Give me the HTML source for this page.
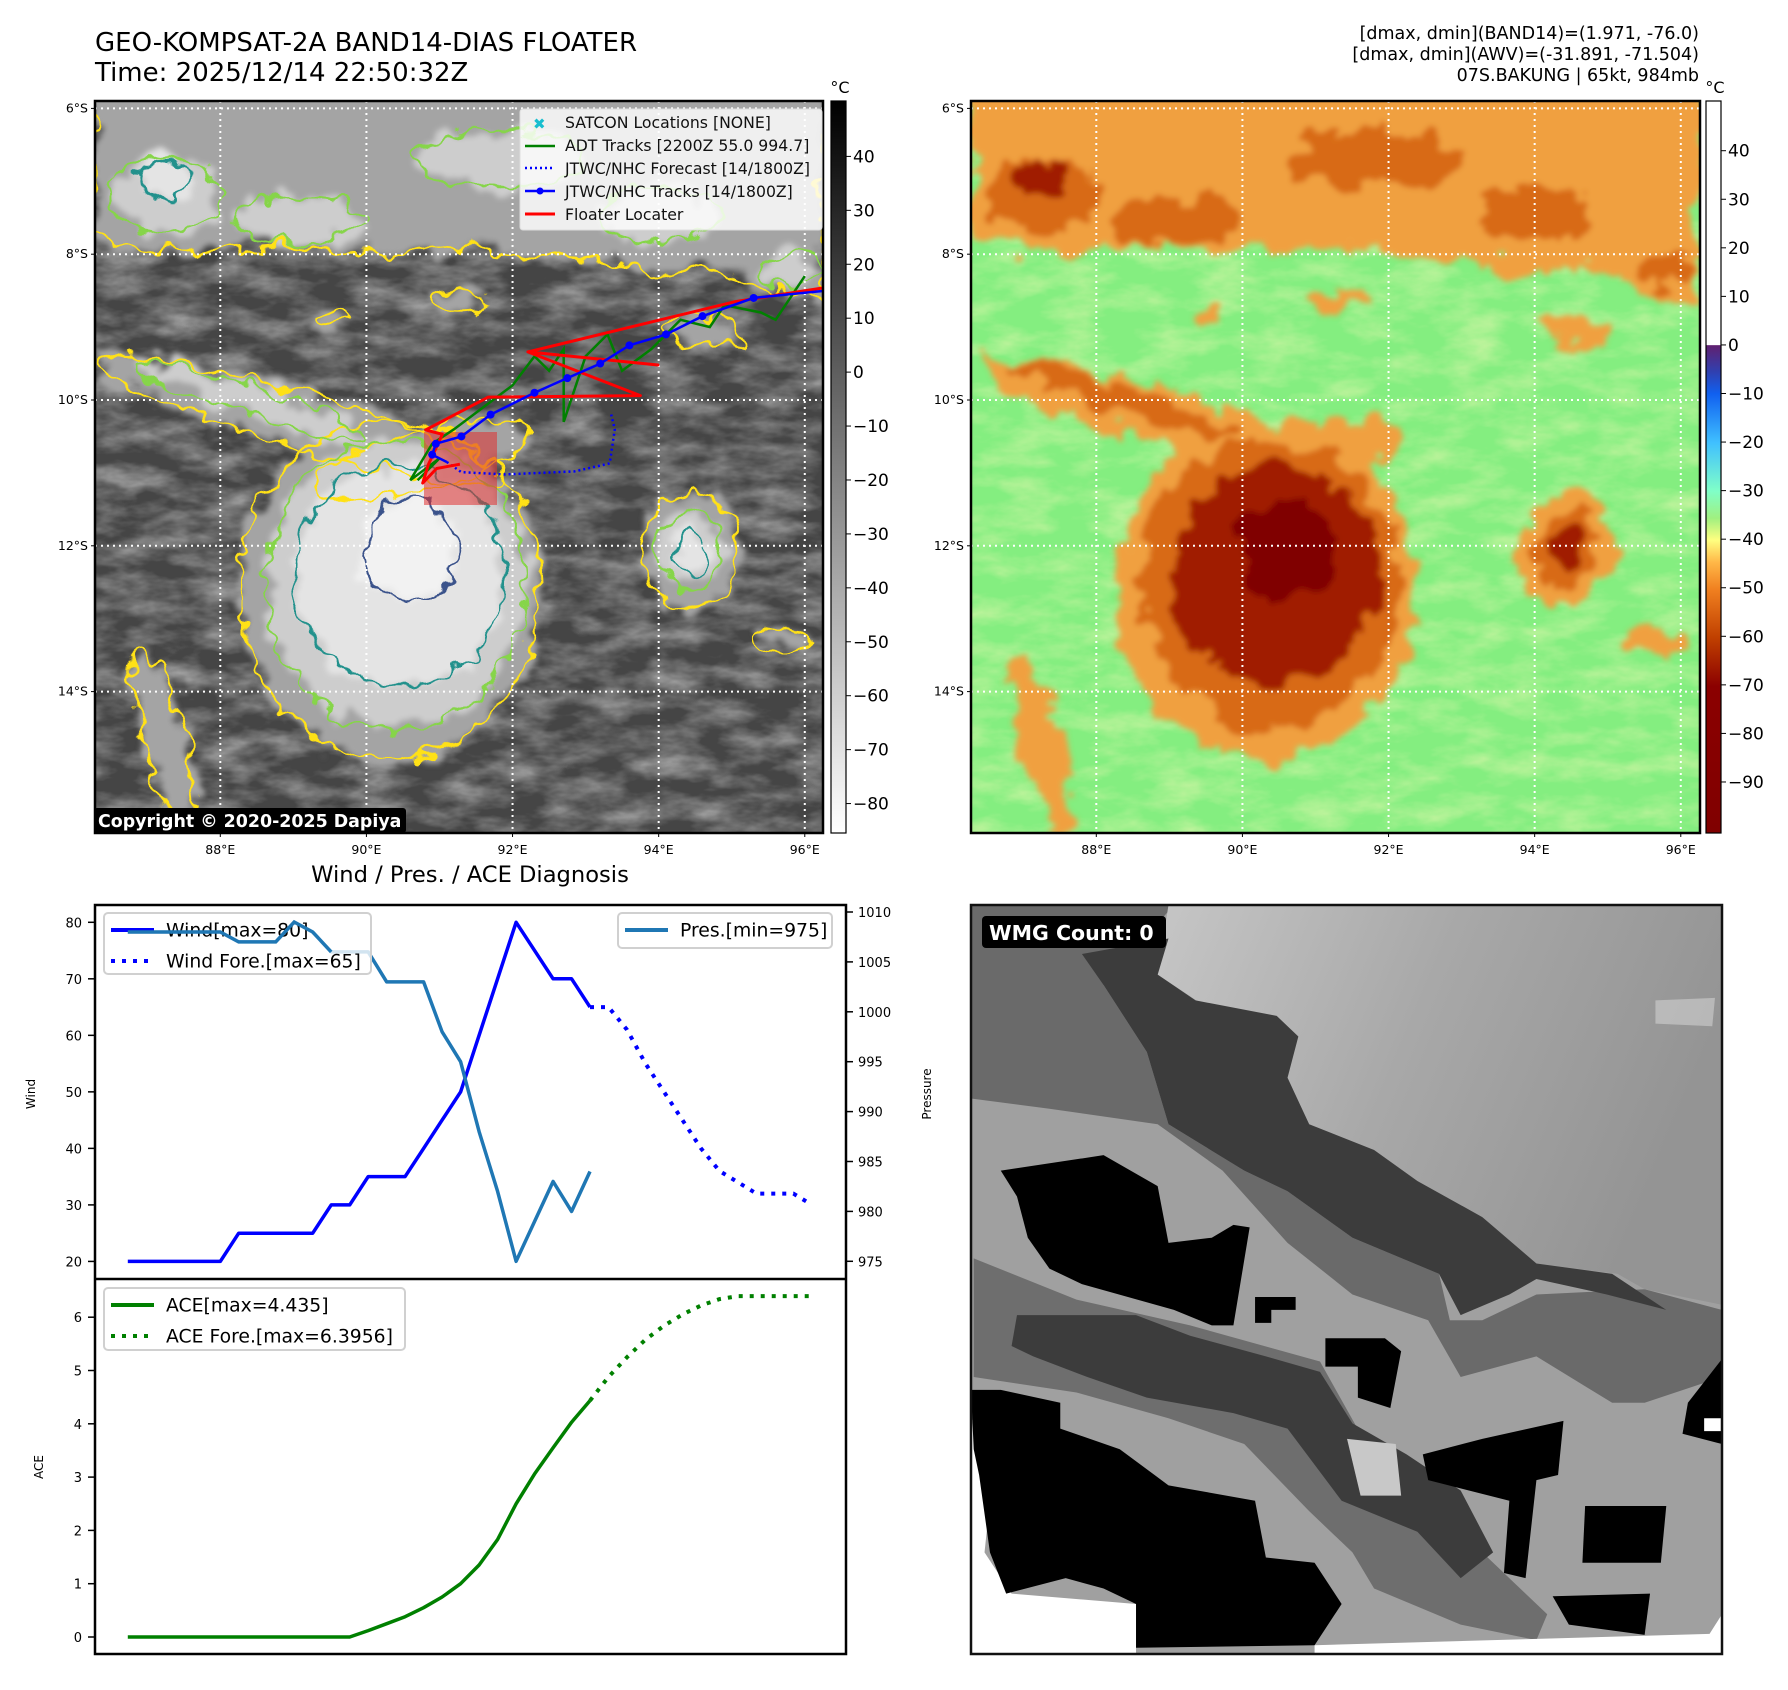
<!DOCTYPE html>
<html><head><meta charset="utf-8">
<style>
html,body{margin:0;padding:0;background:#fff;}
svg{display:block;font-family:"DejaVu Sans","Liberation Sans",sans-serif;}
</style></head>
<body>
<svg id="root" xmlns="http://www.w3.org/2000/svg" width="1788" height="1690" viewBox="0 0 1788 1690">
<defs>
  <filter id="wig" x="-20%" y="-20%" width="140%" height="140%">
    <feTurbulence type="fractalNoise" baseFrequency="0.045" numOctaves="2" seed="3" result="n"/>
    <feDisplacementMap in="SourceGraphic" in2="n" scale="28" xChannelSelector="R" yChannelSelector="G"/>
  </filter>
  <filter id="wigfill" x="-20%" y="-20%" width="140%" height="140%">
    <feTurbulence type="fractalNoise" baseFrequency="0.035" numOctaves="3" seed="7" result="n"/>
    <feDisplacementMap in="SourceGraphic" in2="n" scale="40" xChannelSelector="R" yChannelSelector="G" result="d"/>
    <feGaussianBlur in="d" stdDeviation="3"/>
  </filter>
  <filter id="noiseW" x="0" y="0" width="100%" height="100%">
    <feTurbulence type="fractalNoise" baseFrequency="0.02 0.045" numOctaves="4" seed="11"/>
    <feColorMatrix type="matrix" values="0 0 0 0 1  0 0 0 0 1  0 0 0 0 1  1.6 0 0 0 -0.55"/>
  </filter>
  <filter id="noiseY" x="0" y="0" width="100%" height="100%">
    <feTurbulence type="fractalNoise" baseFrequency="0.02 0.045" numOctaves="4" seed="11"/>
    <feColorMatrix type="matrix" values="0 0 0 0 1  0 0 0 0 0.95  0 0 0 0 0.5  1.6 0 0 0 -0.6"/>
  </filter>
  <clipPath id="clipL"><rect x="95" y="101" width="728" height="732"/></clipPath>
  <clipPath id="clipR"><rect x="971" y="101" width="729" height="732"/></clipPath>
  <linearGradient id="cbGray" x1="0" y1="0" x2="0" y2="1">
    <stop offset="0" stop-color="#000"/><stop offset="1" stop-color="#fff"/>
  </linearGradient>
  <linearGradient id="cbColor" x1="0" y1="1" x2="0" y2="0">
    <stop offset="0" stop-color="#800000"/>
    <stop offset="0.2" stop-color="#8b0000"/>
    <stop offset="0.267" stop-color="#c04000"/>
    <stop offset="0.333" stop-color="#f08020"/>
    <stop offset="0.37" stop-color="#ffb848"/>
    <stop offset="0.40" stop-color="#ffff80"/>
    <stop offset="0.43" stop-color="#a0f080"/>
    <stop offset="0.467" stop-color="#80ffc8"/>
    <stop offset="0.533" stop-color="#40c0ff"/>
    <stop offset="0.60" stop-color="#1060f0"/>
    <stop offset="0.63" stop-color="#3040b0"/>
    <stop offset="0.666" stop-color="#602070"/>
    <stop offset="0.667" stop-color="#ffffff"/>
    <stop offset="1" stop-color="#ffffff"/>
  </linearGradient>
  <linearGradient id="wmgLight" x1="0" y1="0" x2="1" y2="0.3">
    <stop offset="0" stop-color="#c6c6c6"/><stop offset="0.5" stop-color="#a8a8a8"/><stop offset="1" stop-color="#949494"/>
  </linearGradient>
</defs>

<text x="95" y="51" font-size="26">GEO-KOMPSAT-2A BAND14-DIAS FLOATER</text>
<text x="95" y="81" font-size="26">Time: 2025/12/14 22:50:32Z</text>
<g font-size="17.5" text-anchor="end">
  <text x="1699" y="39">[dmax, dmin](BAND14)=(1.971, -76.0)</text>
  <text x="1699" y="60">[dmax, dmin](AWV)=(-31.891, -71.504)</text>
  <text x="1699" y="81">07S.BAKUNG | 65kt, 984mb</text>
</g>

<g id="mapL" clip-path="url(#clipL)"></g>
<rect x="95" y="101" width="728" height="732" fill="none" stroke="#000" stroke-width="2.5"/>
<g id="mapLAxes"></g>

<g id="mapR" clip-path="url(#clipR)"></g>
<rect x="971" y="101" width="729" height="732" fill="none" stroke="#000" stroke-width="2.5"/>
<g id="mapRAxes"></g>

<g id="cbL">
  <rect x="831" y="101" width="15" height="732" fill="url(#cbGray)" stroke="#000" stroke-width="1.2"/>
  <text x="840" y="93" font-size="16" text-anchor="middle">°C</text>
</g>
<g id="cbR">
  <rect x="1706" y="101" width="15" height="732" fill="url(#cbColor)" stroke="#000" stroke-width="1.2"/>
  <text x="1715" y="93" font-size="16" text-anchor="middle">°C</text>
</g>

<g>
  <rect x="520" y="109" width="302" height="121" rx="3" fill="#fff" fill-opacity="0.82" stroke="#ddd"/>
  <text x="533" y="129" font-size="15" fill="#17becf" font-weight="bold">✖</text>
  <line x1="525" y1="146" x2="555" y2="146" stroke="green" stroke-width="2.5"/>
  <line x1="525" y1="168" x2="555" y2="168" stroke="blue" stroke-width="2.5" stroke-dasharray="2,3"/>
  <line x1="525" y1="191" x2="555" y2="191" stroke="blue" stroke-width="2.5"/><circle cx="540" cy="191" r="3.5" fill="blue"/>
  <line x1="525" y1="214" x2="555" y2="214" stroke="red" stroke-width="3"/>
  <g font-size="15.7" fill="#111">
    <text x="565" y="128">SATCON Locations [NONE]</text>
    <text x="565" y="151">ADT Tracks [2200Z 55.0 994.7]</text>
    <text x="565" y="174">JTWC/NHC Forecast [14/1800Z]</text>
    <text x="565" y="197">JTWC/NHC Tracks [14/1800Z]</text>
    <text x="565" y="220">Floater Locater</text>
  </g>
</g>
<g>
  <rect x="94" y="808" width="312" height="25" rx="3" fill="#000"/>
  <text x="98" y="827" font-size="17.4" font-weight="bold" fill="#fff">Copyright © 2020-2025 Dapiya</text>
</g>

<text x="470" y="882" font-size="22.6" text-anchor="middle">Wind / Pres. / ACE Diagnosis</text>
<g id="chart"></g>

<g>
  <svg x="971" y="905" width="751" height="749" viewBox="55 45 1388 1452" preserveAspectRatio="none">
    <rect x="55" y="45" width="1388" height="1452" fill="#a0a0a0"/>
    <polygon fill="#6a6a6a" points="55,45 430,45 300,200 380,330 420,470 560,560 640,600 760,690 920,760 940,850 1000,850 1100,800 1300,790 1443,830 1443,960 1300,1010 1240,1010 1100,920 960,960 900,850 760,800 640,700 520,560 400,470 200,440 55,420"/>
    <polygon fill="url(#wmgLight)" points="420,45 1443,45 1443,820 1300,790 1250,760 1100,740 1000,680 880,580 800,520 680,470 640,380 620,300 500,250 400,180"/>
    <polygon fill="#d0d0d0" opacity="0.6" points="1320,230 1430,225 1425,280 1320,275"/>
    <polygon fill="#3c3c3c" points="260,140 420,110 400,180 470,230 620,260 660,300 640,380 680,470 800,520 880,580 1000,650 1100,740 1240,760 1340,830 1230,800 1100,770 1050,800 960,840 920,760 760,690 640,600 560,560 420,470 380,330 300,200"/>
    <polygon fill="#6e6e6e" points="60,730 250,810 460,860 700,930 780,1080 900,1200 1060,1360 1120,1420 1100,1470 960,1440 800,1370 760,1300 680,1220 560,1090 420,1040 250,990 60,960"/>
    <polygon fill="#3c3c3c" points="140,840 360,840 460,880 600,920 700,950 760,1050 860,1110 960,1180 1020,1300 960,1350 880,1260 740,1200 640,1060 540,1030 380,1000 270,960 170,920 130,900"/>
    <polygon fill="#c8c8c8" points="750,1080 840,1090 850,1190 775,1190"/>
    <polygon fill="#000" points="110,560 300,530 400,590 420,700 500,690 540,665 570,670 540,860 500,860 430,830 260,780 200,750 160,690 140,610"/>
    <polygon fill="#000" points="580,805 655,805 655,830 610,830 610,855 580,855"/>
    <polygon fill="#000" points="710,885 820,885 850,910 830,1020 770,1000 770,940 710,940"/>
    <polygon fill="#fff" points="55,1040 100,1100 80,1300 130,1380 360,1400 360,1497 55,1497"/>
    <polygon fill="#000" points="55,985 110,985 220,1010 220,1060 330,1100 420,1170 580,1200 600,1310 690,1320 740,1400 690,1480 360,1485 360,1400 300,1370 230,1350 120,1380 90,1300 70,1150 60,1100"/>
    <polygon fill="#000" points="1000,1080 1150,1045 1140,1150 1100,1160 1080,1350 1040,1340 1050,1200 900,1160 890,1110"/>
    <polygon fill="#000" points="1190,1210 1340,1210 1330,1320 1185,1320"/>
    <polygon fill="#000" points="1130,1385 1310,1380 1300,1460 1160,1440"/>
    <polygon fill="#000" points="1380,1010 1443,925 1443,1090 1370,1070"/>
    <polygon fill="#fff" points="1410,1040 1443,1040 1443,1065 1410,1065"/>
    <polygon fill="#fff" points="690,1480 1420,1458 1443,1420 1443,1497 690,1497"/>
  </svg>
  <rect x="971" y="905" width="751" height="749" fill="none" stroke="#111" stroke-width="2.5"/>
  <rect x="982" y="916" width="184" height="32" rx="4" fill="#000"/>
  <text x="989" y="940" font-size="20.5" font-weight="bold" fill="#fff">WMG Count: 0</text>
</g>

<script>
// ===== Chart data (bottom-left) =====
const windVals = [20,20,20,20,20,20,25,25,25,25,25,30,30,35,35,35,40,45,50,60,70,80,75,70,70,65];
const windForeVals = [65,65,61,55,50,45,40,36,34,32,32,32,30];
const presVals = [1008,1008,1008,1008,1008,1008,1007,1007,1007,1009,1008,1006,1006,1006,1003,1003,1003,998,995,988,982,975,979,983,980,984];
const aceVals = [0,0,0,0,0,0,0,0,0,0,0,0,0,0.12,0.25,0.38,0.55,0.75,1.0,1.35,1.83,2.5,3.06,3.55,4.03,4.435];
const aceForeVals = [4.435,4.88,5.25,5.58,5.84,6.05,6.22,6.34,6.3956,6.3956,6.3956,6.3956,6.3956];
const windTicks = [20,30,40,50,60,70,80];
const presTicks = [975,980,985,990,995,1000,1005,1010];
const aceTicks = [0,1,2,3,4,5,6];
// ===== Map track data (lon E, lat S) =====
const jtwcLon = [96.3,95.3,94.6,94.1,93.6,93.2,92.75,92.3,91.7,91.3,90.95,90.9,91.1];
const jtwcLat = [8.5,8.6,8.85,9.1,9.25,9.5,9.7,9.9,10.2,10.5,10.6,10.75,10.85];
const fcstLon = [91.1,91.3,91.9,92.85,93.33,93.4,93.35];
const fcstLat = [10.85,10.99,11.02,10.98,10.87,10.4,10.2];
const floaterLon = [96.27,95.05,92.21,93.99,92.21,93.75,91.67,90.81,91.04,90.85,90.77,90.96,91.28];
const floaterLat = [8.46,8.65,9.34,9.52,9.34,9.94,9.96,10.41,10.47,10.88,11.14,10.94,10.88];
const adtLon = [96.0,95.6,95.4,94.9,94.7,94.3,93.9,93.5,93.3,93.0,92.7,92.7,92.5,92.3,92.0,91.6,91.2,90.9,90.6,91.0,90.7];
const adtLat = [8.3,8.9,8.8,8.7,9.0,8.9,9.3,9.6,9.1,9.4,10.3,9.3,9.6,9.4,9.8,10.1,10.4,10.6,11.1,10.8,11.1];
const lonTicks = [88,90,92,94,96];
const latTicks = [6,8,10,12,14];
const grayCbTicks = [40,30,20,10,0,-10,-20,-30,-40,-50,-60,-70,-80];
const colorCbTicks = [40,30,20,10,0,-10,-20,-30,-40,-50,-60,-70,-80,-90];

const NS = 'http://www.w3.org/2000/svg';
function mk(tag, attrs, parent){const e=document.createElementNS(NS,tag);for(const k in attrs)e.setAttribute(k,attrs[k]);if(parent)parent.appendChild(e);return e;}

const CX0=95, CX1=846, CT=905, CM=1279, CB=1654;
const xIdx = i => 127.8 + i*18.49;
const yWind = v => 922.3 + (80-v)*5.652;
const yPres = v => 912 + (1010-v)*9.98;
const yAce = v => 1637 - v*53.3;
const chart = document.getElementById('chart');
function pts(vals, fx, fy, off){return vals.map((v,i)=>fx(i+off).toFixed(1)+','+fy(v).toFixed(1)).join(' ');}

mk('rect',{x:CX0,y:CT,width:CX1-CX0,height:CB-CT,fill:'#fff'},chart);
let p;
p=mk('polyline',{points:pts(windVals,xIdx,yWind,0),fill:'none',stroke:'blue','stroke-width':3.5,'stroke-linejoin':'round'},chart);


p=mk('polyline',{points:pts(windForeVals,xIdx,yWind,25),fill:'none',stroke:'blue','stroke-width':4,'stroke-dasharray':'4,7'},chart);


p=mk('polyline',{points:pts(presVals,xIdx,yPres,0),fill:'none',stroke:'#1f77b4','stroke-width':3.5,'stroke-linejoin':'round'},chart);


p=mk('polyline',{points:pts(aceVals,xIdx,yAce,0),fill:'none',stroke:'green','stroke-width':3.5,'stroke-linejoin':'round'},chart);


p=mk('polyline',{points:pts(aceForeVals,xIdx,yAce,25),fill:'none',stroke:'green','stroke-width':4,'stroke-dasharray':'4,7'},chart);


mk('rect',{x:CX0,y:CT,width:CX1-CX0,height:CB-CT,fill:'none',stroke:'#000','stroke-width':2.5},chart);
mk('line',{x1:CX0,y1:CM,x2:CX1,y2:CM,stroke:'#000','stroke-width':2.5},chart);
windTicks.forEach(v=>{const y=yWind(v);mk('line',{x1:CX0-7,y1:y,x2:CX0,y2:y,stroke:'#000','stroke-width':1.5},chart);
  const t=mk('text',{x:CX0-13,y:y+5,'font-size':13,'text-anchor':'end'},chart);t.textContent=v;
  
  });
presTicks.forEach(v=>{const y=yPres(v);mk('line',{x1:CX1,y1:y,x2:CX1+7,y2:y,stroke:'#000','stroke-width':1.5},chart);
  const t=mk('text',{x:CX1+12,y:y+5,'font-size':13},chart);t.textContent=v;
  
  });
aceTicks.forEach(v=>{const y=yAce(v);mk('line',{x1:CX0-7,y1:y,x2:CX0,y2:y,stroke:'#000','stroke-width':1.5},chart);
  const t=mk('text',{x:CX0-13,y:y+5,'font-size':13,'text-anchor':'end'},chart);t.textContent=v;
  
  });
let t;
t=mk('text',{x:0,y:0,'font-size':12,'text-anchor':'middle',transform:'translate(35,1094) rotate(-90)'},chart);t.textContent='Wind';


t=mk('text',{x:0,y:0,'font-size':12,'text-anchor':'middle',transform:'translate(931,1094) rotate(-90)'},chart);t.textContent='Pressure';


t=mk('text',{x:0,y:0,'font-size':12,'text-anchor':'middle',transform:'translate(43,1467) rotate(-90)'},chart);t.textContent='ACE';


function legend(x,y,w,h,items,name){const g=mk('g',{},chart);
  
  
  mk('rect',{x:x,y:y,width:w,height:h,rx:4,fill:'#fff','fill-opacity':0.8,stroke:'#d0d0d0','stroke-width':2},g);
  items.forEach((it,k)=>{const yy=y+17+k*31;
    const a={x1:x+7,y1:yy,x2:x+50,y2:yy,stroke:it.c,'stroke-width':4};if(it.d)a['stroke-dasharray']='4,7';mk('line',a,g);
    const tx=mk('text',{x:x+62,y:yy+6.5,'font-size':18.8},g);tx.textContent=it.t;});}
legend(104,913,267,61,[{c:'blue',t:'Wind[max=80]'},{c:'blue',d:1,t:'Wind Fore.[max=65]'}],'wind-legend');
legend(618,913,214,35,[{c:'#1f77b4',t:'Pres.[min=975]'}],'pressure-legend');
legend(104,1288,301,62,[{c:'green',t:'ACE[max=4.435]'},{c:'green',d:1,t:'ACE Fore.[max=6.3956]'}],'ace-legend');
p=mk('polyline',{points:pts(presVals.slice(0,12),xIdx,yPres,0),fill:'none',stroke:'#1f77b4','stroke-width':3.5},chart);



// ===== Maps =====
const shapes = [
 {lv:1,d:'M95,60 L823,60 L823,300 C770,300 720,250 650,275 C590,250 530,270 470,245 C400,255 340,250 270,245 C210,250 150,260 95,235 Z'},
 {lv:1,e:[300,420,210,28,16]},{lv:1,e:[390,590,150,170,0]},{lv:1,e:[690,550,48,58,0]},{lv:1,e:[165,745,22,95,-15]},
 {lv:1,e:[700,330,40,14,10]},{lv:1,e:[330,320,14,8,0]},{lv:1,e:[460,300,30,10,0]},{lv:1,e:[780,640,30,12,0]},
 {lv:1,e:[420,460,110,30,-15]},
 {lv:2,e:[395,585,130,145,0]},{lv:2,e:[165,195,55,38,0]},{lv:2,e:[300,220,65,24,0]},{lv:2,e:[660,215,60,28,0]},
 {lv:2,e:[500,160,85,30,0]},{lv:2,e:[690,550,30,40,0]},{lv:2,e:[790,270,30,16,0]},{lv:2,e:[250,400,120,14,18]},
 {lv:3,e:[400,575,105,110,0]},{lv:3,e:[165,180,28,20,0]},{lv:3,e:[690,550,16,24,0]},
 {lv:4,e:[410,550,48,50,0]}
];
function shapeEl(s,dx,attrs,parent){let el;
  if(s.d){el=mk('path',Object.assign({d:s.d,transform:'translate('+dx+',0)'},attrs),parent);}
  else{const [cx,cy,rx,ry,r]=s.e;el=mk('ellipse',Object.assign({cx:cx+dx,cy:cy,rx:rx,ry:ry,transform:'rotate('+r+' '+(cx+dx)+' '+cy+')'},attrs),parent);}
  return el;}
function lonX(l){return 220.3+(l-88)*73.06;}
function latY(l){return 108.4+(l-6)*72.9;}
function drawMap(gid,dx,bg,noise,fills,strokes){const g=document.getElementById(gid);
  mk('rect',{x:95+dx-10,y:90,width:760,height:760,fill:bg},g);
  mk('rect',{x:95+dx-10,y:90,width:760,height:760,fill:'#fff',filter:'url(#'+noise+')',opacity:0.55},g);
  const fg=mk('g',{filter:'url(#wigfill)'},g);
  [1,2,3,4].forEach(lv=>shapes.filter(s=>s.lv===lv).forEach(s=>shapeEl(s,dx,{fill:fills[lv-1]},fg)));
  if(strokes){const sg=mk('g',{filter:'url(#wig)',fill:'none'},g);
    [1,2,3,4].forEach(lv=>shapes.filter(s=>s.lv===lv).forEach(s=>{
      strokes[lv-1].forEach(c=>shapeEl(s,dx,{stroke:c,'stroke-width':2.4},sg));}));}
  lonTicks.forEach(l=>{const x=lonX(l)+dx;mk('line',{x1:x,y1:101,x2:x,y2:833,stroke:'#fff','stroke-width':2,'stroke-dasharray':'2,4'},g);});
  latTicks.forEach(l=>{const y=latY(l);mk('line',{x1:95+dx,y1:y,x2:823+dx+4,y2:y,stroke:'#fff','stroke-width':2,'stroke-dasharray':'2,4'},g);});
}
drawMap('mapL',0,'#454545','noiseW',['#a4a4a4','#cdcdcd','#e4e4e4','#f2f2f2'],[['#ffe119'],['#86d549'],['#21918c'],['#3b528b']]);
drawMap('mapR',876,'#84ee80','noiseY',['#f0a040','#d86a14','#a01a00','#800000'],null);

const mL=document.getElementById('mapL');
function trackPts(lon,lat){return lon.map((v,i)=>lonX(v).toFixed(1)+','+latY(lat[i]).toFixed(1)).join(' ');}
p=mk('rect',{x:424,y:432,width:73,height:73,fill:'#e03030','fill-opacity':0.55},mL);


p=mk('polyline',{points:trackPts(adtLon,adtLat),fill:'none',stroke:'green','stroke-width':2.5},mL);


p=mk('polyline',{points:trackPts(fcstLon,fcstLat),fill:'none',stroke:'blue','stroke-width':2.5,'stroke-dasharray':'2,3'},mL);


p=mk('polyline',{points:trackPts(floaterLon,floaterLat),fill:'none',stroke:'red','stroke-width':3,'stroke-linejoin':'round'},mL);


p=mk('polyline',{points:trackPts(jtwcLon,jtwcLat),fill:'none',stroke:'blue','stroke-width':2.5},mL);


jtwcLon.forEach((v,i)=>{if(i<12){const c=mk('circle',{cx:lonX(v),cy:latY(jtwcLat[i]),r:4,fill:'blue'},mL);
  
  }});

function mapAxes(gid,dx){const g=document.getElementById(gid);
  latTicks.forEach(l=>{const y=latY(l);mk('line',{x1:95+dx-4,y1:y,x2:95+dx,y2:y,stroke:'#000'},g);
    const tx=mk('text',{x:95+dx-7,y:y+4,'font-size':12.5,'text-anchor':'end'},g);tx.textContent=l+'°S';
    
    });
  lonTicks.forEach(l=>{const x=lonX(l)+dx;mk('line',{x1:x,y1:833,x2:x,y2:837,stroke:'#000'},g);
    const tx=mk('text',{x:x,y:854,'font-size':12.5,'text-anchor':'middle'},g);tx.textContent=l+'°E';
    
    });}
mapAxes('mapLAxes',0);mapAxes('mapRAxes',876);

const cbGrayY = v => 156.4 + (40-v)*5.393;
const cbColY = v => 150.7 + (40-v)*4.856;
const cbL=document.getElementById('cbL'), cbR=document.getElementById('cbR');
grayCbTicks.forEach(v=>{const y=cbGrayY(v);mk('line',{x1:846,y1:y,x2:851,y2:y,stroke:'#000'},cbL);
  const tx=mk('text',{x:853,y:y+6,'font-size':17},cbL);tx.textContent=(v<0?'\u2212'+(-v):v);
  
  });
colorCbTicks.forEach(v=>{const y=cbColY(v);mk('line',{x1:1721,y1:y,x2:1726,y2:y,stroke:'#000'},cbR);
  const tx=mk('text',{x:1728,y:y+6,'font-size':17},cbR);tx.textContent=(v<0?'\u2212'+(-v):v);
  
  });
</script>
</svg>
</body></html>
